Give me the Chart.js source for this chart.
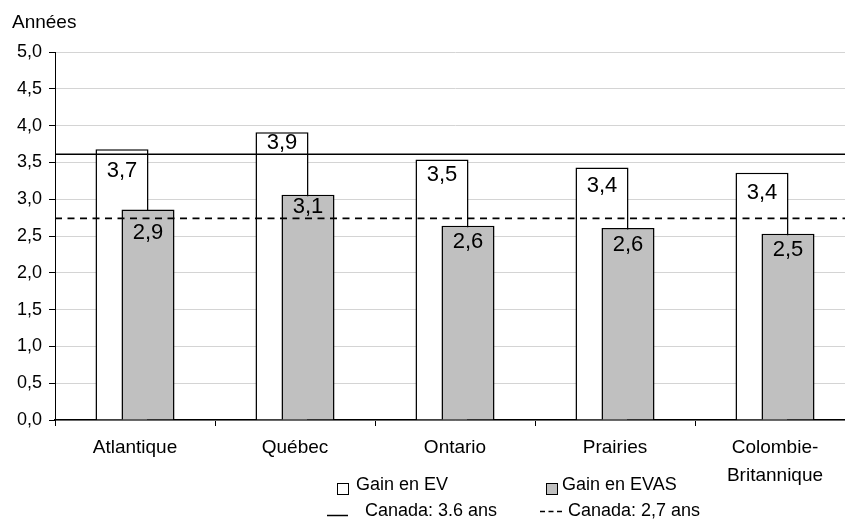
<!DOCTYPE html>
<html>
<head>
<meta charset="utf-8">
<script src="https://cdn.jsdelivr.net/npm/chart.js@4/dist/chart.umd.min.js"></script>
<style>
  html, body { margin: 0; padding: 0; background: #fff; overflow: hidden; width: 845px; height: 525px; }
  #wrap { width: 856px; height: 525px; }
</style>
</head>
<body>
<div id="wrap"><canvas id="chart" width="856" height="525"></canvas></div>
<script>
// Regions and life-expectancy gains (years)
const regions = ['Atlantique', 'Québec', 'Ontario', 'Prairies', ['Colombie-', 'Britannique']];
const gainEV = [3.68, 3.91, 3.54, 3.43, 3.36];
const gainEVAS = [2.86, 3.06, 2.64, 2.61, 2.53];
const canadaEV = 3.61;
const canadaEVAS = 2.74;
const seriesNames = ['Gain en EV', 'Gain en EVAS'];
const refNames = ['Canada: 3.6 ans', 'Canada: 2,7 ans'];
const axisTitle = 'Années';

// Vertical drop of each value label below the top of its bar (px)
const dropEV = [28, 17, 21.5, 24.5, 26];
const dropEVAS = [29.5, 18, 22.5, 23, 22.5];

const FONT = '"Liberation Sans", Arial, sans-serif';
const GREY = '#c0c0c0';
const fmt = v => v.toFixed(1).replace('.', ',');

const IDX_EV = 0, IDX_EVAS = 1;

// White bars sit in the left slot but must be painted underneath the grey ones
const barLayering = {
  id: 'barLayering',
  beforeDatasetDraw(chart, args) {
    if (args.index === IDX_EV) return false;
    if (args.index === IDX_EVAS) {
      chart.getDatasetMeta(IDX_EV).controller.draw();
    }
  }
};

// Canada reference levels across the plot, then value labels inside the bars
const overlays = {
  id: 'overlays',
  afterDatasetsDraw(chart) {
    const ctx = chart.ctx;
    const y = chart.scales.y;
    const area = chart.chartArea;
    ctx.save();
    ctx.strokeStyle = '#000';
    ctx.lineWidth = 1.6;
    [[canadaEV, []], [canadaEVAS, [7, 5.5]]].forEach(([v, dash]) => {
      const py = y.getPixelForValue(v);
      ctx.setLineDash(dash);
      ctx.beginPath();
      ctx.moveTo(area.left, py);
      ctx.lineTo(area.right, py);
      ctx.stroke();
    });
    ctx.setLineDash([]);

    ctx.font = '22px ' + FONT;
    ctx.fillStyle = '#000';
    ctx.textAlign = 'center';
    ctx.textBaseline = 'alphabetic';
    [[IDX_EV, gainEV, dropEV], [IDX_EVAS, gainEVAS, dropEVAS]].forEach(([idx, values, drops]) => {
      chart.getDatasetMeta(idx).data.forEach((bar, i) => {
        ctx.fillText(fmt(values[i]), bar.x, bar.y + drops[i]);
      });
    });
    ctx.restore();
  }
};

// Axis caption and two-row legend
const annotations = {
  id: 'annotations',
  afterDraw(chart) {
    const ctx = chart.ctx;
    ctx.save();
    ctx.fillStyle = '#000';
    ctx.textBaseline = 'alphabetic';
    ctx.textAlign = 'left';
    ctx.font = '19px ' + FONT;
    ctx.fillText(axisTitle, 12, 28);

    ctx.font = '18px ' + FONT;
    ctx.lineWidth = 1;
    ctx.strokeStyle = '#000';
    ctx.fillStyle = '#fff';
    ctx.fillRect(337.5, 483.5, 11, 11);
    ctx.strokeRect(337.5, 483.5, 11, 11);
    ctx.fillStyle = GREY;
    ctx.fillRect(546.5, 483.5, 11, 11);
    ctx.strokeRect(546.5, 483.5, 11, 11);
    ctx.fillStyle = '#000';
    ctx.fillText(seriesNames[0], 356, 490);
    ctx.fillText(seriesNames[1], 562, 490);

    ctx.lineWidth = 1.5;
    ctx.beginPath();
    ctx.moveTo(327, 515.5);
    ctx.lineTo(348, 515.5);
    ctx.stroke();
    ctx.setLineDash([5, 3.5]);
    ctx.beginPath();
    ctx.moveTo(540, 511.5);
    ctx.lineTo(562, 511.5);
    ctx.stroke();
    ctx.setLineDash([]);
    ctx.fillText(refNames[0], 365, 516);
    ctx.fillText(refNames[1], 568, 516);
    ctx.restore();
  }
};

new Chart(document.getElementById('chart'), {
  type: 'bar',
  data: {
    labels: regions,
    datasets: [
      {
        label: seriesNames[0], data: gainEV, order: 1,
        backgroundColor: '#fff', borderColor: '#000', borderWidth: 1.5,
        categoryPercentage: 0.325, barPercentage: 2.04
      },
      {
        label: seriesNames[1], data: gainEVAS, order: 2,
        backgroundColor: GREY, borderColor: '#000', borderWidth: 1.5,
        categoryPercentage: 0.325, barPercentage: 2.04
      }
    ]
  },
  options: {
    responsive: false,
    animation: false,
    events: [],
    layout: { padding: { top: 52, right: 1, bottom: 0, left: 0 } },
    plugins: { legend: { display: false }, tooltip: { enabled: false }, title: { display: false } },
    scales: {
      x: {
        type: 'category',
        grid: { drawOnChartArea: false, offset: true, tickLength: 6, color: '#000', tickColor: '#000', lineWidth: 1 },
        border: { color: '#000', width: 1.5 },
        ticks: { color: '#000', font: { family: FONT, size: 19, lineHeight: 1.45 }, padding: 8, maxRotation: 0, autoSkip: false },
        afterFit(scale) { scale.height = 105; }
      },
      y: {
        min: 0, max: 5,
        ticks: { stepSize: 0.5, color: '#000', font: { family: FONT, size: 18 }, padding: 7, callback: v => fmt(v) },
        grid: { color: '#d4d4d4', tickColor: '#000', tickLength: 6, lineWidth: 1 },
        border: { color: '#000', width: 1 },
        afterFit(scale) { scale.width = 55; }
      }
    }
  },
  plugins: [barLayering, overlays, annotations]
});
</script>
</body>
</html>
